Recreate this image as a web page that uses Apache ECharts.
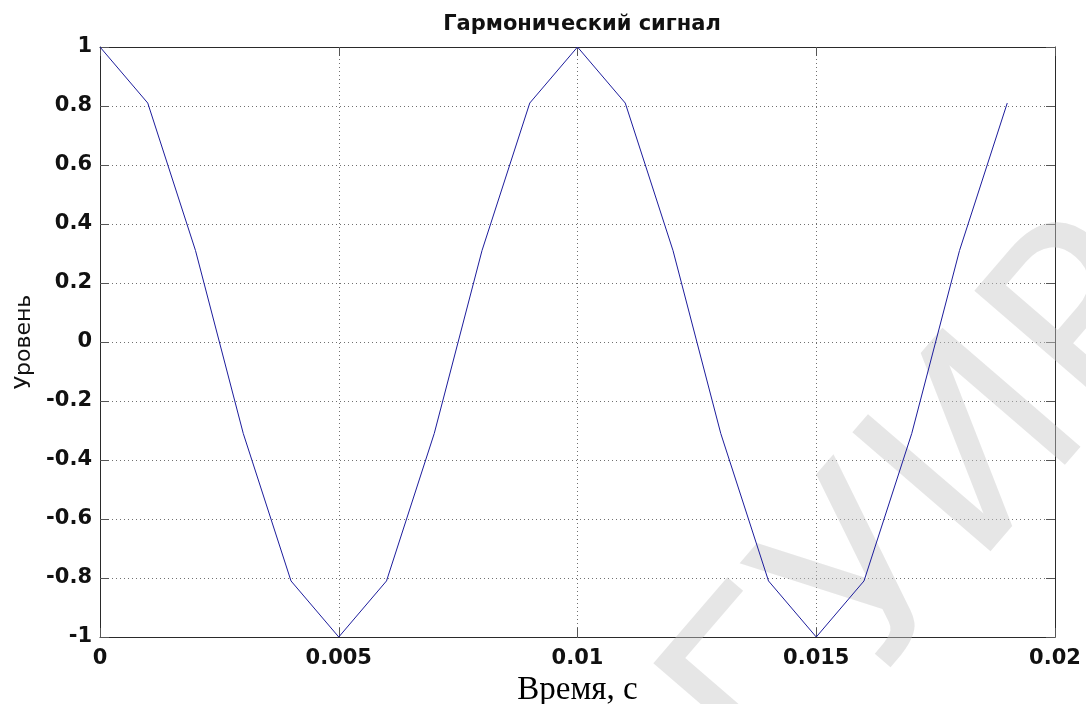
<!DOCTYPE html>
<html>
<head>
<meta charset="utf-8">
<script src="https://cdn.jsdelivr.net/npm/echarts@6/dist/echarts.min.js"></script>
<style>
  html, body { margin: 0; padding: 0; background: #fff; }
  #chart { width: 1086px; height: 704px; }
</style>
</head>
<body>
<div id="chart"></div>
<script>
// Sample instants, s
const times = [0, 0.001, 0.002, 0.003, 0.004, 0.005, 0.006, 0.007, 0.008, 0.009,
               0.010, 0.011, 0.012, 0.013, 0.014, 0.015, 0.016, 0.017, 0.018, 0.019];
// Signal level at each instant
const levels = [1, 0.81, 0.31, -0.31, -0.81, -1, -0.81, -0.31, 0.31, 0.81,
                1, 0.81, 0.31, -0.31, -0.81, -1, -0.81, -0.31, 0.31, 0.81];

const titleText = 'Гармонический сигнал';
const xName = 'Время, с';
const yName = 'Уровень';
const stampText = 'БГУИР';

const sans = '"DejaVu Sans", "Liberation Sans", sans-serif';
const serif = '"Liberation Serif", "DejaVu Serif", serif';

const points = times.map((t, i) => [t, levels[i]]);

const frameLine = { show: true, onZero: false, lineStyle: { color: '#2a2a2a', width: 1 } };
const innerTick = { show: true, inside: true, length: 9, lineStyle: { color: '#555', width: 1 } };
const dotted = { show: true, lineStyle: { color: '#707070', width: 1, type: [1, 3] } };
const tickFont = { fontFamily: sans, fontSize: 21, fontWeight: 'bold', color: '#111' };

const chart = echarts.init(document.getElementById('chart'), null, { renderer: 'canvas' });
chart.setOption({
  backgroundColor: '#ffffff',
  animation: false,
  title: {
    text: titleText,
    left: 577,
    textAlign: 'center',
    top: 9,
    textStyle: { fontFamily: sans, fontSize: 21, fontWeight: 'bold', color: '#111' }
  },
  grid: { left: 100, right: 31, top: 47, bottom: 67, containLabel: false, outerBoundsMode: 'none' },
  xAxis: [
    {
      type: 'value', min: 0, max: 0.02, interval: 0.005, position: 'bottom',
      axisLine: frameLine, axisTick: innerTick,
      axisLabel: Object.assign({ margin: 11 }, tickFont),
      splitLine: dotted,
      name: xName, nameLocation: 'middle', nameGap: 18,
      nameTextStyle: { fontFamily: serif, fontSize: 33, color: '#000', verticalAlign: 'top' }
    },
    {
      type: 'value', min: 0, max: 0.02, interval: 0.005, position: 'top',
      axisLine: frameLine, axisTick: innerTick,
      axisLabel: { show: false }, splitLine: { show: false }
    }
  ],
  yAxis: [
    {
      type: 'value', min: -1, max: 1, interval: 0.2, position: 'left',
      axisLine: frameLine, axisTick: innerTick,
      axisLabel: Object.assign({ margin: 8 }, tickFont),
      splitLine: dotted,
      name: yName, nameLocation: 'middle', nameGap: 62,
      nameTextStyle: { fontFamily: sans, fontSize: 22, color: '#111' }
    },
    {
      type: 'value', min: -1, max: 1, interval: 0.2, position: 'right',
      axisLine: frameLine, axisTick: innerTick,
      axisLabel: { show: false }, splitLine: { show: false }
    }
  ],
  graphic: [
    {
      type: 'text',
      x: 880, y: 580,
      rotation: 0.86,
      z: 1,
      silent: true,
      style: {
        text: stampText,
        font: '250px ' + sans,
        fill: 'rgba(200,200,200,0.45)',
        align: 'center',
        verticalAlign: 'middle'
      }
    }
  ],
  series: [
    {
      type: 'line',
      xAxisIndex: 0, yAxisIndex: 0,
      data: points,
      showSymbol: false,
      z: 5,
      lineStyle: { color: '#1c1c9c', width: 1 }
    }
  ]
});
</script>
</body>
</html>
